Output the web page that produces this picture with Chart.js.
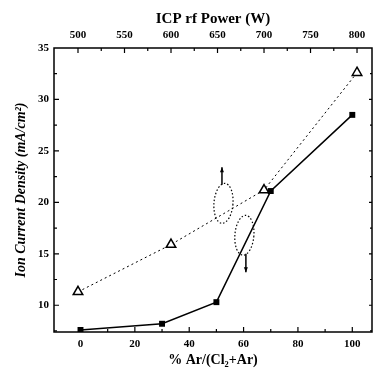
<!DOCTYPE html>
<html>
<head>
<meta charset="utf-8">
<script src="https://cdn.jsdelivr.net/npm/chart.js@4/dist/chart.umd.min.js"></script>
<style>
  html, body { margin: 0; padding: 0; background: #fff; }
  #wrap { width: 379px; height: 368px; position: relative; }
</style>
</head>
<body>
<div id="wrap"><canvas id="c" width="379" height="368"></canvas></div>
<script>
// ---- data ----
const arPercent = [0, 30, 50, 70, 100];
const currentVsAr = [7.6, 8.2, 10.3, 21.1, 28.5];
const rfPower = [500, 600, 700, 800];
const currentVsPower = [11.3, 15.9, 21.2, 32.6];
const bottomTickLabels = [0, 20, 40, 60, 80, 100];
const topTickLabels = [500, 550, 600, 650, 700, 750, 800];
const leftTickLabels = [10, 15, 20, 25, 30, 35];

const SERIF = "'Liberation Serif', 'DejaVu Serif', serif";
const tickFont = { family: SERIF, weight: 'bold', size: 11 };
const inList = (list, v) => list.some(m => Math.abs(m - v) < 1e-6);

function frameTicksPlugin() {
  return {
    id: 'frameTicks',
    afterDraw(chart) {
      const ctx = chart.ctx;
      const a = chart.chartArea;
      ctx.save();
      ctx.strokeStyle = '#000';
      ctx.lineWidth = 1.5;
      ctx.strokeRect(a.left, a.top, a.right - a.left, a.bottom - a.top);
      ctx.lineWidth = 1.2;
      const sx = chart.scales.x, sx2 = chart.scales.x2, sy = chart.scales.y;
      function eachStep(scale, step, majorList, fn) {
        const start = Math.ceil(scale.min / step - 1e-9) * step;
        for (let v = start; v <= scale.max + 1e-9; v += step) {
          fn(scale.getPixelForValue(v), inList(majorList, v));
        }
      }
      ctx.beginPath();
      eachStep(sx, 10, bottomTickLabels, (p, major) => {
        if (p <= a.left + 1 || p >= a.right - 1) return;
        const len = major ? 5 : 3;
        ctx.moveTo(p, a.bottom); ctx.lineTo(p, a.bottom - len);
      });
      eachStep(sx2, 25, topTickLabels, (p, major) => {
        if (p <= a.left + 1 || p >= a.right - 1) return;
        const len = major ? 5 : 3;
        ctx.moveTo(p, a.top); ctx.lineTo(p, a.top + len);
      });
      eachStep(sy, 2.5, leftTickLabels, (p, major) => {
        if (p <= a.top + 1 || p >= a.bottom - 1) return;
        const len = major ? 5 : 3;
        ctx.moveTo(a.left, p); ctx.lineTo(a.left + len, p);
        ctx.moveTo(a.right, p); ctx.lineTo(a.right - (major ? 3 : 2), p);
      });
      ctx.stroke();

      // dotted ellipses with arrows (axis indicators)
      function ellipse(cx, cy, rx, ry, rot) {
        ctx.save();
        ctx.setLineDash([1.5, 2]);
        ctx.lineWidth = 1.2;
        ctx.beginPath();
        ctx.ellipse(cx, cy, rx, ry, rot, 0, Math.PI * 2);
        ctx.stroke();
        ctx.restore();
      }
      function arrow(x, y0, y1) {
        ctx.save();
        ctx.lineWidth = 1.5;
        ctx.beginPath();
        ctx.moveTo(x, y0); ctx.lineTo(x, y1);
        ctx.stroke();
        const d = y1 < y0 ? -1 : 1;
        ctx.beginPath();
        ctx.moveTo(x, y1);
        ctx.lineTo(x - 2, y1 - d * 5);
        ctx.lineTo(x + 2, y1 - d * 5);
        ctx.closePath();
        ctx.fill();
        ctx.restore();
      }
      ctx.fillStyle = '#000';
      const e1x = sx.getPixelForValue(52.6), e1y = sy.getPixelForValue(19.9);
      ellipse(e1x, e1y, 9.5, 20, 0.08);
      arrow(e1x - 1.5, sy.getPixelForValue(21.7), sy.getPixelForValue(23.4));
      const e2x = sx.getPixelForValue(60.3), e2y = sy.getPixelForValue(16.8);
      ellipse(e2x, e2y, 9.5, 20, 0.08);
      arrow(e2x + 1.5, sy.getPixelForValue(15.0), sy.getPixelForValue(13.2));
      ctx.restore();
    }
  };
}

new Chart(document.getElementById('c'), {
  type: 'line',
  data: {
    datasets: [
      {
        label: 'Ion current vs % Ar',
        data: arPercent.map((x, i) => ({ x, y: currentVsAr[i] })),
        xAxisID: 'x', yAxisID: 'y',
        borderColor: '#000', borderWidth: 1.5,
        backgroundColor: '#000',
        pointStyle: 'rect', pointRadius: 4.2,
        pointBackgroundColor: '#000', pointBorderColor: '#000', pointBorderWidth: 0,
        tension: 0, fill: false
      },
      {
        label: 'Ion current vs ICP power',
        data: rfPower.map((x, i) => ({ x, y: currentVsPower[i] })),
        xAxisID: 'x2', yAxisID: 'y',
        borderColor: '#000', borderWidth: 1, borderDash: [2, 3],
        pointStyle: 'triangle', pointRadius: 5.5,
        pointBackgroundColor: '#fff', pointBorderColor: '#000', pointBorderWidth: 1.5,
        tension: 0, fill: false
      }
    ]
  },
  options: {
    responsive: false,
    animation: false,
    devicePixelRatio: 1,
    layout: { padding: { left: 0, right: 2, top: 0, bottom: 0 } },
    plugins: { legend: { display: false }, tooltip: { enabled: false } },
    scales: {
      x: {
        type: 'linear', position: 'bottom',
        min: -9.75, max: 107.25,
        grid: { display: false, drawTicks: false },
        border: { display: false },
        ticks: {
          stepSize: 10, autoSkip: false, maxRotation: 0, padding: 6, includeBounds: false,
          color: '#000', font: tickFont,
          callback: v => inList(bottomTickLabels, v) ? String(Math.round(v)) : ''
        },
        title: {
          display: true, text: '% Ar/(Cl\u2082+Ar)', color: '#000',
          font: { family: SERIF, weight: 'bold', size: 14, lineHeight: 1.2 },
          padding: { top: 0, bottom: -1 }
        },
        afterFit(s) { s.height = 36; }
      },
      x2: {
        type: 'linear', position: 'top',
        min: 474.2, max: 816.1,
        grid: { display: false, drawTicks: false },
        border: { display: false },
        ticks: {
          stepSize: 25, autoSkip: false, maxRotation: 0, padding: 6, includeBounds: false,
          color: '#000', font: tickFont,
          callback: v => inList(topTickLabels, v) ? String(Math.round(v)) : ''
        },
        title: {
          display: true, text: 'ICP rf Power (W)', color: '#000',
          font: { family: SERIF, weight: 'bold', size: 15, lineHeight: 1.2 },
          padding: { top: 10, bottom: 0 }
        },
        afterFit(s) { s.height = 48; }
      },
      y: {
        type: 'linear', position: 'left',
        min: 7.4, max: 35,
        grid: { display: false, drawTicks: false },
        border: { display: false },
        ticks: {
          stepSize: 2.5, autoSkip: false, padding: 5, includeBounds: false,
          color: '#000', font: tickFont,
          callback: v => inList(leftTickLabels, v) ? String(Math.round(v)) : ''
        },
        title: {
          display: true, text: 'Ion Current Density (mA/cm\u00B2)', color: '#000',
          font: { family: SERIF, weight: 'bold', style: 'italic', size: 14, lineHeight: 1.2 },
          padding: { top: 13, bottom: 0 }
        },
        afterFit(s) { s.width = 54; }
      }
    }
  },
  plugins: [frameTicksPlugin()]
});
</script>
</body>
</html>
